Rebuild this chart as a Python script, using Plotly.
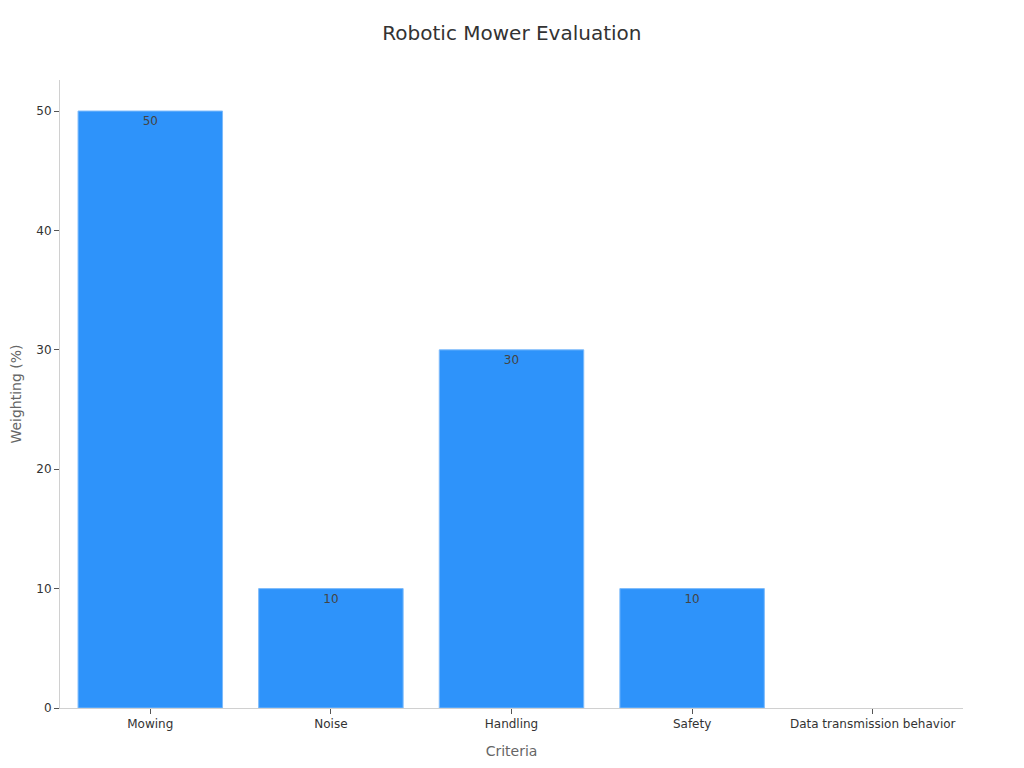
import plotly.graph_objects as go

criteria = ["Mowing", "Noise", "Handling", "Safety", "Data transmission behavior"]
weighting = [50, 10, 30, 10, 0]

# no outline on empty bars so nothing shows at zero
outline_widths = [1 if v > 0 else 0 for v in weighting]

fig = go.Figure(go.Bar(
    x=criteria,
    y=weighting,
    text=weighting,
    textposition="inside",
    insidetextanchor="end",
    textfont=dict(color="#444444", size=12),
    marker=dict(color="#2E93FA", line=dict(color="#7DBBFB", width=outline_widths)),
))

# page has an 8px body margin, so size/margins compensate for it
fig.update_layout(
    width=1016,
    height=760,
    template="none",
    font=dict(family="DejaVu Sans", color="#333333"),
    title=dict(text="Robotic Mower Evaluation", x=0.496, xanchor="center",
               y=0.967, yanchor="middle",
               font=dict(size=20, color="#333333")),
    margin=dict(l=52, r=61, t=72, b=60),
    bargap=0.2,
    paper_bgcolor="white",
    plot_bgcolor="white",
    showlegend=False,
)
fig.update_xaxes(
    title=dict(text="Criteria", font=dict(size=14, color="#666666"), standoff=15),
    showline=True, linecolor="#d0d0d0", linewidth=1,
    ticks="outside", ticklen=5, tickcolor="#555555",
    showgrid=False, zeroline=False,
    tickfont=dict(size=12, color="#333333"),
)
fig.update_yaxes(
    title=dict(text="Weighting (%)", font=dict(size=14, color="#666666"), standoff=11),
    range=[0, 52.6],
    dtick=10,
    showline=True, linecolor="#d0d0d0", linewidth=1,
    ticks="outside", ticklen=5, tickcolor="#555555",
    showgrid=False, zeroline=False,
    tickfont=dict(size=12, color="#333333"),
)

fig.write_html("out.html")
